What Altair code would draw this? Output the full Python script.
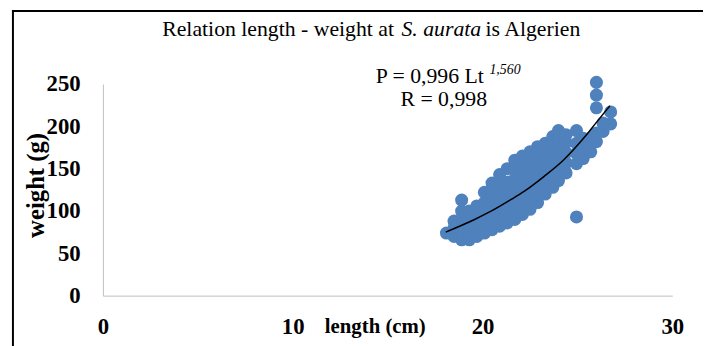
import altair as alt
import pandas as pd

# Scatter values (length in cm, weight in g)
length_cm = [
    18.1,
    18.5, 18.5, 18.5,
    18.9, 18.9, 18.9, 18.9, 18.9,
    19.3, 19.3, 19.3, 19.3,
    19.7, 19.7, 19.7, 19.7,
    20.1, 20.1, 20.1, 20.1, 20.1,
    20.5, 20.5, 20.5, 20.5, 20.5, 20.5,
    20.9, 20.9, 20.9, 20.9, 20.9, 20.9,
    21.3, 21.3, 21.3, 21.3, 21.3, 21.3,
    21.7, 21.7, 21.7, 21.7, 21.7, 21.7, 21.7,
    22.1, 22.1, 22.1, 22.1, 22.1, 22.1, 22.1,
    22.5, 22.5, 22.5, 22.5, 22.5, 22.5, 22.5,
    22.9, 22.9, 22.9, 22.9, 22.9, 22.9, 22.9,
    23.3, 23.3, 23.3, 23.3, 23.3, 23.3,
    23.7, 23.7, 23.7, 23.7, 23.7, 23.7,
    24.0, 24.0, 24.0, 24.0, 24.0, 24.0,
    24.4, 24.4, 24.4, 24.4, 24.4,
    24.95, 24.95, 24.95, 24.95, 24.95,
    25.3, 25.3, 25.3,
    25.7, 25.7, 25.7,
    26.0, 26.0, 26.0, 26.0, 26.0,
    26.35, 26.35,
    26.75, 26.75,
]
weight_g = [
    74,
    70, 80, 88,
    66, 78, 90, 100, 113,
    66, 76, 88, 100,
    70, 82, 94, 106,
    74, 86, 98, 110, 122,
    78, 90, 102, 114, 126, 133,
    82, 94, 106, 118, 130, 143,
    86, 98, 110, 122, 134, 150,
    90, 102, 114, 126, 138, 150, 160,
    96, 108, 120, 132, 144, 156, 165,
    102, 114, 126, 138, 150, 162, 170,
    110, 122, 134, 146, 158, 170, 176,
    120, 132, 144, 156, 168, 180,
    128, 140, 152, 164, 176, 188,
    136, 148, 160, 172, 184, 195,
    145, 157, 169, 181, 190,
    93, 156, 168, 180, 195,
    162, 174, 186,
    170, 180, 186,
    182, 192, 222, 237, 252,
    194, 204,
    203, 217,
]

# Trend line points
trend_length = [18.06, 19.58, 20.45, 21.49, 22.19, 23.23, 24.27, 25.31, 26.01, 26.71]
trend_weight = [75.1, 90.0, 99.8, 113.4, 123.2, 140.7, 160.3, 185.6, 205.0, 224.3]

x_ticks = [0, 10, 20, 30]
y_ticks = [0, 50, 100, 150, 200, 250]

title_parts = ["Relation length - weight at", "S. aurata", "is Algerien"]
eq_line1 = "P = 0,996 Lt"
eq_sup = "1,560"
eq_line2 = "R = 0,998"

df = pd.DataFrame({"length": length_cm, "weight": weight_g})
df_trend = pd.DataFrame({"length": trend_length, "weight": trend_weight})
one = pd.DataFrame({"k": [0]})

SERIF = "Liberation Serif"

x_enc = alt.X(
    "length:Q",
    scale=alt.Scale(domain=[0, 30], nice=False),
    axis=alt.Axis(
        values=x_ticks, title="length (cm)", grid=False, ticks=False, tickSize=0,
        domainColor="#BFBFBF", domainWidth=1,
        labelFont=SERIF, labelFontSize=23, labelFontWeight="bold", labelColor="black",
        labelPadding=31, labelBaseline="middle", labelFlush=False,
        titleFont=SERIF, titleFontSize=21, titleFontWeight="bold", titleColor="black",
        titleBaseline="middle", titleY=31, titleX=275, titleAlign="center",
    ),
)
y_enc = alt.Y(
    "weight:Q",
    scale=alt.Scale(domain=[0, 250], nice=False),
    axis=alt.Axis(
        values=y_ticks, title="weight (g)", grid=False, ticks=False, tickSize=0,
        domainColor="#BFBFBF", domainWidth=1,
        labelFont=SERIF, labelFontSize=23, labelFontWeight="bold", labelColor="black",
        labelPadding=23, labelFlush=False,
        titleFont=SERIF, titleFontSize=25, titleFontWeight="bold", titleColor="black",
        titleAngle=270, titleX=-68, titleY=102, titleAlign="center", titleBaseline="middle",
    ),
)

points = alt.Chart(df).mark_circle(size=175, opacity=1, color="#4F81BD").encode(x=x_enc, y=y_enc)

trend = (
    alt.Chart(df_trend)
    .mark_line(color="black", strokeWidth=1.5, interpolate="monotone")
    .encode(x="length:Q", y="weight:Q")
)

def label(text, x, y, size, align="left", style="normal"):
    return alt.Chart(one).mark_text(
        text=text, font=SERIF, fontSize=size, align=align, baseline="middle",
        fontStyle=style, color="black",
    ).encode(x=alt.value(x), y=alt.value(y))

t1 = label(title_parts[0], 60, -56, 22)
t2 = label(title_parts[1], 302, -56, 22, style="italic")
t3 = label(title_parts[2], 387, -56, 22)

e1 = label(eq_line1, 276, -8, 22)
e2 = label(eq_sup, 391, -14, 14, style="italic")
e3 = label(eq_line2, 301, 15, 22)

frame_top = alt.Chart(one).mark_rule(color="black", strokeWidth=2).encode(
    x=alt.value(-92), x2=alt.value(640), y=alt.value(-74)
)
frame_left = alt.Chart(one).mark_rule(color="black", strokeWidth=2).encode(
    x=alt.value(-91), y=alt.value(-75), y2=alt.value(270)
)

chart = (
    alt.layer(points, trend, t1, t2, t3, e1, e2, e3, frame_top, frame_left)
    .properties(
        width=576, height=214,
        autosize=alt.AutoSizeParams(type="none"),
        padding={"left": 96, "top": 75, "right": 31, "bottom": 49},
        background="white",
    )
    .configure_view(stroke="transparent")
)

chart.save("out.html", embed_options={"renderer": "svg", "actions": False})
